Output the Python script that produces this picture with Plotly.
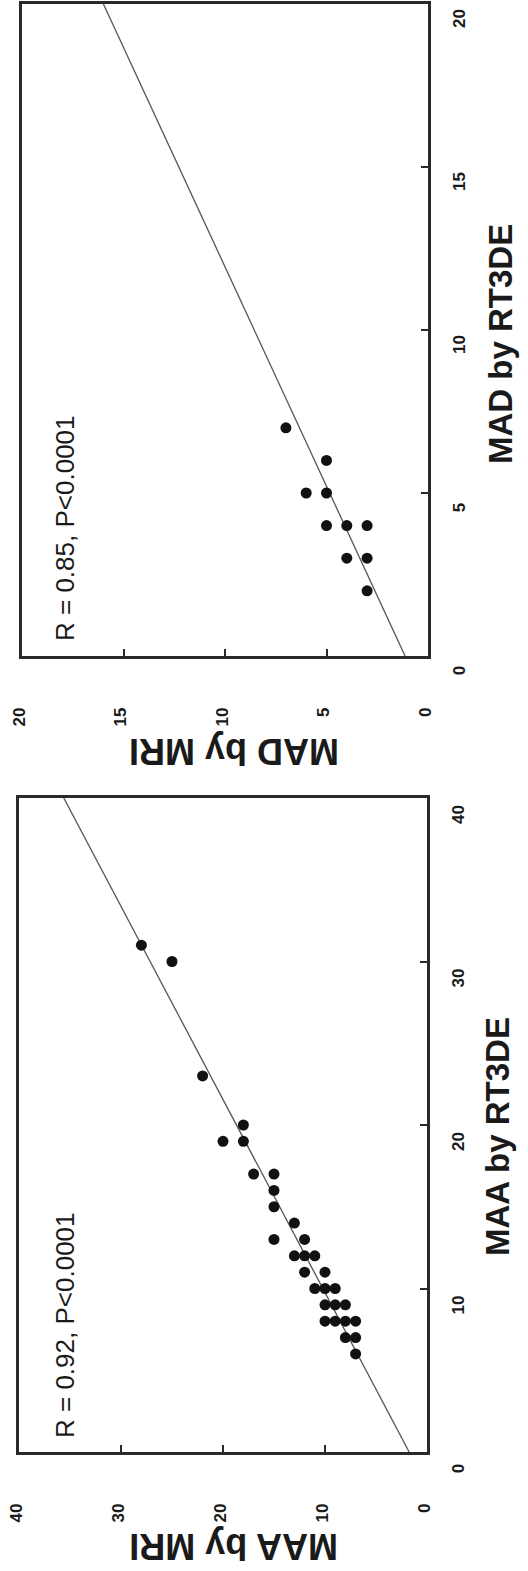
import plotly.graph_objects as go

# ---- data ----
mad_rt3de = [7, 6, 5, 5, 4, 4, 4, 3, 3, 2]
mad_mri = [7, 5, 6, 5, 5, 4, 3, 4, 3, 3]
mad_fit_intercept = 1.13
mad_fit_slope = 0.743
mad_ticks = [0, 5, 10, 15, 20]
mad_label = "R = 0.85, P<0.0001"

maa_rt3de = [31, 30, 23, 20, 19, 19, 17, 17, 16, 15, 14, 13, 13, 12, 12, 12,
             11, 11, 10, 10, 10, 9, 9, 9, 8, 8, 8, 8, 7, 7, 6]
maa_mri = [28, 25, 22, 18, 20, 18, 17, 15, 15, 15, 13, 15, 12, 13, 12, 11,
           12, 10, 11, 10, 9, 10, 9, 8, 10, 9, 8, 7, 8, 7, 7]
maa_fit_intercept = 1.75
maa_fit_slope = 0.8465
maa_ticks = [0, 10, 20, 30, 40]
maa_label = "R = 0.92, P<0.0001"

W, H = 528, 1571
FONT = "Liberation Sans, Arial, sans-serif"
INK = "#1a1a1a"


def px(x):
    return x / W


def py(y):
    return (H - y) / H


fig = go.Figure()

# top panel: MAD
mad_max = mad_ticks[-1]
fig.add_trace(go.Scatter(
    x=[mad_fit_intercept, mad_fit_intercept + mad_fit_slope * mad_max],
    y=[0, mad_max], mode="lines", line=dict(color="#555555", width=1.3),
    xaxis="x", yaxis="y", showlegend=False, hoverinfo="skip"))
fig.add_trace(go.Scatter(
    x=mad_mri, y=mad_rt3de, mode="markers",
    marker=dict(color="#111111", size=11, line=dict(width=0)),
    xaxis="x", yaxis="y", showlegend=False))

# bottom panel: MAA
maa_max = maa_ticks[-1]
fig.add_trace(go.Scatter(
    x=[maa_fit_intercept, maa_fit_intercept + maa_fit_slope * maa_max],
    y=[0, maa_max], mode="lines", line=dict(color="#555555", width=1.3),
    xaxis="x2", yaxis="y2", showlegend=False, hoverinfo="skip"))
fig.add_trace(go.Scatter(
    x=maa_mri, y=maa_rt3de, mode="markers",
    marker=dict(color="#111111", size=11, line=dict(width=0)),
    xaxis="x2", yaxis="y2", showlegend=False))

tickfont = dict(family=FONT, size=17, color=INK, weight="bold")
common = dict(showgrid=False, zeroline=False, showline=True, mirror=True,
              linecolor="#2a2a2a", linewidth=2.5, ticks="inside", ticklen=7,
              tickwidth=2, tickcolor="#2a2a2a", tickangle=-90, tickfont=tickfont,
              fixedrange=True, automargin=False)

fig.update_layout(
    template="none",
    width=W, height=H, margin=dict(l=0, r=0, t=0, b=0, autoexpand=False),
    paper_bgcolor="white", plot_bgcolor="white",
    xaxis=dict(domain=[px(22), px(428)], range=[mad_max, 0], tickvals=mad_ticks,
               anchor="y", ticklabelstandoff=42, ticklabelshift=3, **common),
    yaxis=dict(domain=[py(656), py(4)], range=[0, mad_max], tickvals=mad_ticks,
               anchor="x", side="right", ticklabelstandoff=14, ticklabelshift=17,
               **common),
    xaxis2=dict(domain=[px(19), px(427)], range=[maa_max, 0], tickvals=maa_ticks,
                anchor="y2", ticklabelstandoff=42, ticklabelshift=3, **common),
    yaxis2=dict(domain=[py(1452), py(798)], range=[0, maa_max], tickvals=maa_ticks,
                anchor="x2", side="right", ticklabelstandoff=14, ticklabelshift=19,
                **common),
)

title_font_rt = dict(family=FONT, size=33, color=INK, weight="bold")
title_font_mri = dict(family=FONT, size=36, color=INK, weight="bold")
rfont = dict(family=FONT, size=26, color=INK)

ann = [
    dict(text="MAD by RT3DE", x=px(500), y=py(344), textangle=-90, font=title_font_rt),
    dict(text="MAA by RT3DE", x=px(497), y=py(1137), textangle=-90, font=title_font_rt),
    dict(text="MAD by MRI", x=px(234), y=py(752), textangle=180, font=title_font_mri),
    dict(text="MAA by MRI", x=px(234), y=py(1547), textangle=180, font=title_font_mri),
    dict(text=mad_label, x=px(65), y=py(643), textangle=-90, font=rfont, yanchor="bottom"),
    dict(text=maa_label, x=px(65), y=py(1440), textangle=-90, font=rfont, yanchor="bottom"),
]
for a in ann:
    a.setdefault("yanchor", "middle")
    fig.add_annotation(xref="paper", yref="paper", xanchor="center", showarrow=False, **a)

fig.write_html("out.html")
